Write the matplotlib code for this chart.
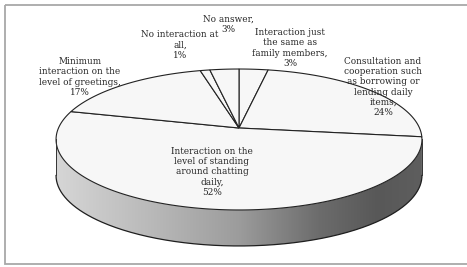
import numpy as np
import matplotlib
matplotlib.use("Agg")
import matplotlib.pyplot as plt
from matplotlib.patches import Polygon, Rectangle
from matplotlib.colors import LinearSegmentedColormap

# ---- data ----
labels = [
    "Interaction just\nthe same as\nfamily members,\n3%",
    "Consultation and\ncooperation such\nas borrowing or\nlending daily\nitems,\n24%",
    "Interaction on the\nlevel of standing\naround chatting\ndaily,\n52%",
    "Minimum\ninteraction on the\nlevel of greetings,\n17%",
    "No interaction at\nall,\n1%",
    "No answer,\n3%",
]
values = [3, 24, 52, 17, 1, 3]

# ---- geometry (pixel space) ----
W, H = 467, 267
cx, cy = 239, 128
A, B, P = 180.5, 68.6, 0.163
DEPTH = 36

def proj(theta_deg):
    t = np.radians(theta_deg)
    c, s = np.cos(t), np.sin(t)
    d = 1 + P * s
    return cx + A * c / d, cy - B * s / d

fig = plt.figure(figsize=(W / 100, H / 100), dpi=100)
ax = fig.add_axes([0, 0, 1, 1])
ax.set_xlim(0, W)
ax.set_ylim(H, 0)
ax.axis("off")

# ---- side wall ----
t0 = 180 + np.degrees(np.arcsin(P))
t1 = 360 - np.degrees(np.arcsin(P))
ths = np.linspace(t0, t1, 300)
tx, ty = proj(ths)
side_pts = np.concatenate([np.column_stack([tx, ty]),
                           np.column_stack([tx[::-1], ty[::-1] + DEPTH])])
side = Polygon(side_pts, closed=True, facecolor="none", edgecolor="none")
ax.add_patch(side)
stops = [(0.0, "#d6d6d6"), (0.25, "#bababa"), (0.5, "#9c9c9c"),
         (0.72, "#6c6c6c"), (0.88, "#585858"), (1.0, "#5e5e5e")]
cmap = LinearSegmentedColormap.from_list("side", stops)
grad = np.linspace(0, 1, 256)[None, :]
im = ax.imshow(grad, cmap=cmap, aspect="auto",
               extent=[tx.min(), tx.max(), ty.max() + DEPTH, ty.min()],
               zorder=1)
im.set_clip_path(side)
ax.plot(tx, ty + DEPTH, color="#1e1e1e", lw=0.9, zorder=3)
ax.plot([tx[0], tx[0]], [ty[0], ty[0] + DEPTH], color="#333333", lw=0.7, zorder=3)
ax.plot([tx[-1], tx[-1]], [ty[-1], ty[-1] + DEPTH], color="#333333", lw=0.7, zorder=3)

# ---- top wedges ----
total = float(sum(values))
start = 90.0
for v in values:
    sweep = 360.0 * v / total
    angs = np.linspace(start, start - sweep, max(8, int(sweep * 2)))
    px, py = proj(angs)
    pts = np.vstack([[cx, cy], np.column_stack([px, py])])
    ax.add_patch(Polygon(pts, closed=True, facecolor="#f7f7f7",
                         edgecolor="#222222", lw=0.8, zorder=2))
    start -= sweep

# ---- labels ----
label_pos = [(290, 48), (383, 87), (212, 172), (80, 77), (180, 45), (228, 24)]
for txt, (lx, ly) in zip(labels, label_pos):
    ax.text(lx, ly, txt, ha="center", va="center", fontsize=6.4,
            family="DejaVu Serif", color="#262626", linespacing=1.15,
            zorder=5)

# ---- frame ----
ax.add_patch(Rectangle((5, 5), W + 10, 259, facecolor="none",
                       edgecolor="#a8a8a8", lw=1.3, zorder=6))

fig.savefig("out.png", dpi=100)
